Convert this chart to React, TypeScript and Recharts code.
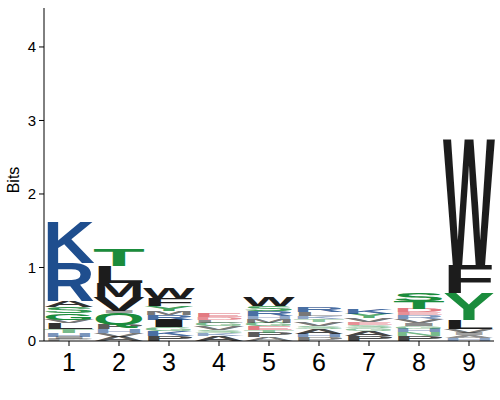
import React from 'react';
import { BarChart, Bar, XAxis, YAxis } from 'recharts';

const positions = ['1', '2', '3', '4', '5', '6', '7', '8', '9'];

// letters per position, bottom -> top
const columnLetters: string[][] = [
  ['P', 'I', 'H', 'T', 'L', 'V', 'G', 'S', 'A', 'R', 'K'],
  ['A', 'V', 'H', 'P', 'Q', 'I', 'V', 'M', 'L', 'T'],
  ['P', 'K', 'G', 'I', 'R', 'M', 'Y', 'F', 'W'],
  ['A', 'K', 'S', 'V', 'G', 'L', 'D', 'E'],
  ['A', 'P', 'T', 'E', 'G', 'M', 'H', 'R', 'S', 'W'],
  ['P', 'H', 'A', 'S', 'V', 'T', 'K', 'L', 'R'],
  ['P', 'A', 'G', 'S', 'E', 'V', 'Y', 'K'],
  ['P', 'N', 'H', 'G', 'I', 'V', 'R', 'E', 'D', 'T', 'S'],
  ['H', 'A', 'I', 'V', 'L', 'Y', 'F', 'W'],
];

// information (bits) per letter, bottom -> top
const columnBits: number[][] = [
  [0.03, 0.03, 0.05, 0.05, 0.08, 0.05, 0.09, 0.08, 0.08, 0.52, 0.56],
  [0.06, 0.05, 0.05, 0.06, 0.16, 0.03, 0.19, 0.19, 0.23, 0.23],
  [0.07, 0.07, 0.05, 0.1, 0.07, 0.05, 0.07, 0.11, 0.14],
  [0.07, 0.04, 0.04, 0.05, 0.05, 0.04, 0.04, 0.05],
  [0.05, 0.06, 0.04, 0.05, 0.05, 0.05, 0.04, 0.07, 0.07, 0.12],
  [0.05, 0.05, 0.07, 0.04, 0.05, 0.04, 0.04, 0.05, 0.07],
  [0.07, 0.07, 0.04, 0.04, 0.04, 0.05, 0.06, 0.07],
  [0.07, 0.05, 0.05, 0.04, 0.04, 0.05, 0.05, 0.04, 0.05, 0.1, 0.11],
  [0.04, 0.04, 0.03, 0.05, 0.12, 0.37, 0.38, 1.7],
];

const yTicks = [0, 1, 2, 3, 4];

const MAX_LAYERS = Math.max(...columnLetters.map((c) => c.length));

const data = positions.map((pos, i) => {
  const row: Record<string, any> = { pos, letters: columnLetters[i] };
  columnBits[i].forEach((b, j) => {
    row[`h${j}`] = b;
  });
  return row;
});

const BLUE = '#1f4e8e';
const GREEN = '#1a8c3c';
const RED = '#d0202e';
const BLACK = '#1c1c1c';

const colorOf = (ch: string) => {
  if ('KRH'.includes(ch)) return BLUE;
  if ('STGYCQN'.includes(ch)) return GREEN;
  if ('DE'.includes(ch)) return RED;
  return BLACK;
};

const FONT = "'Liberation Sans', Arial, Helvetica, sans-serif";

const LetterShape = (props: any) => {
  const { x, y, width, height, payload, idx } = props;
  const letters: string[] = payload?.letters || [];
  const ch = letters[idx];
  if (!ch || !(height > 0)) return null;
  const F = 100;
  const cap = 0.688 * F;
  const sy = height / cap;
  const bits = payload[`h${idx}`] ?? 0;
  const opacity = Math.min(1, 0.12 + bits * 10);
  const tl = width * 1.08;
  return (
    <text
      x={0}
      y={0}
      transform={`translate(${x - width * 0.04},${y + height}) scale(1,${sy})`}
      fontSize={F}
      fontFamily={FONT}
      fontWeight="bold"
      textLength={tl}
      lengthAdjust="spacingAndGlyphs"
      fill={colorOf(ch)}
      fillOpacity={opacity}
    >
      {ch}
    </text>
  );
};

export default function App() {
  return (
    <div style={{ position: 'absolute', left: 0, top: 0, background: '#fff' }}>
      <BarChart
        width={500}
        height={400}
        data={data}
        margin={{ top: 8, right: 6, bottom: 0, left: 0 }}
        barCategoryGap={1}
      >
        <XAxis
          dataKey="pos"
          type="category"
          height={59}
          tickSize={5}
          tickMargin={7}
          stroke="#000"
          tick={{ fill: '#000', fontSize: 25, fontFamily: FONT }}
        />
        <YAxis
          type="number"
          domain={[0, 4.53]}
          ticks={yTicks}
          allowDataOverflow
          width={44}
          tickSize={5}
          tickMargin={3}
          stroke="#000"
          tick={{ fill: '#000', fontSize: 15, fontFamily: FONT }}
          label={{
            content: () => (
              <text
                x={15}
                y={180}
                transform="rotate(-90 15 180)"
                textAnchor="middle"
                dominantBaseline="middle"
                fontSize={16}
                fontFamily={FONT}
                fill="#000"
              >
                Bits
              </text>
            ),
          }}
        />
        {Array.from({ length: MAX_LAYERS }, (_, i) => (
          <Bar
            key={i}
            dataKey={`h${i}`}
            stackId="logo"
            isAnimationActive={false}
            shape={(p: any) => <LetterShape {...p} idx={i} />}
          />
        ))}
      </BarChart>
    </div>
  );
}
